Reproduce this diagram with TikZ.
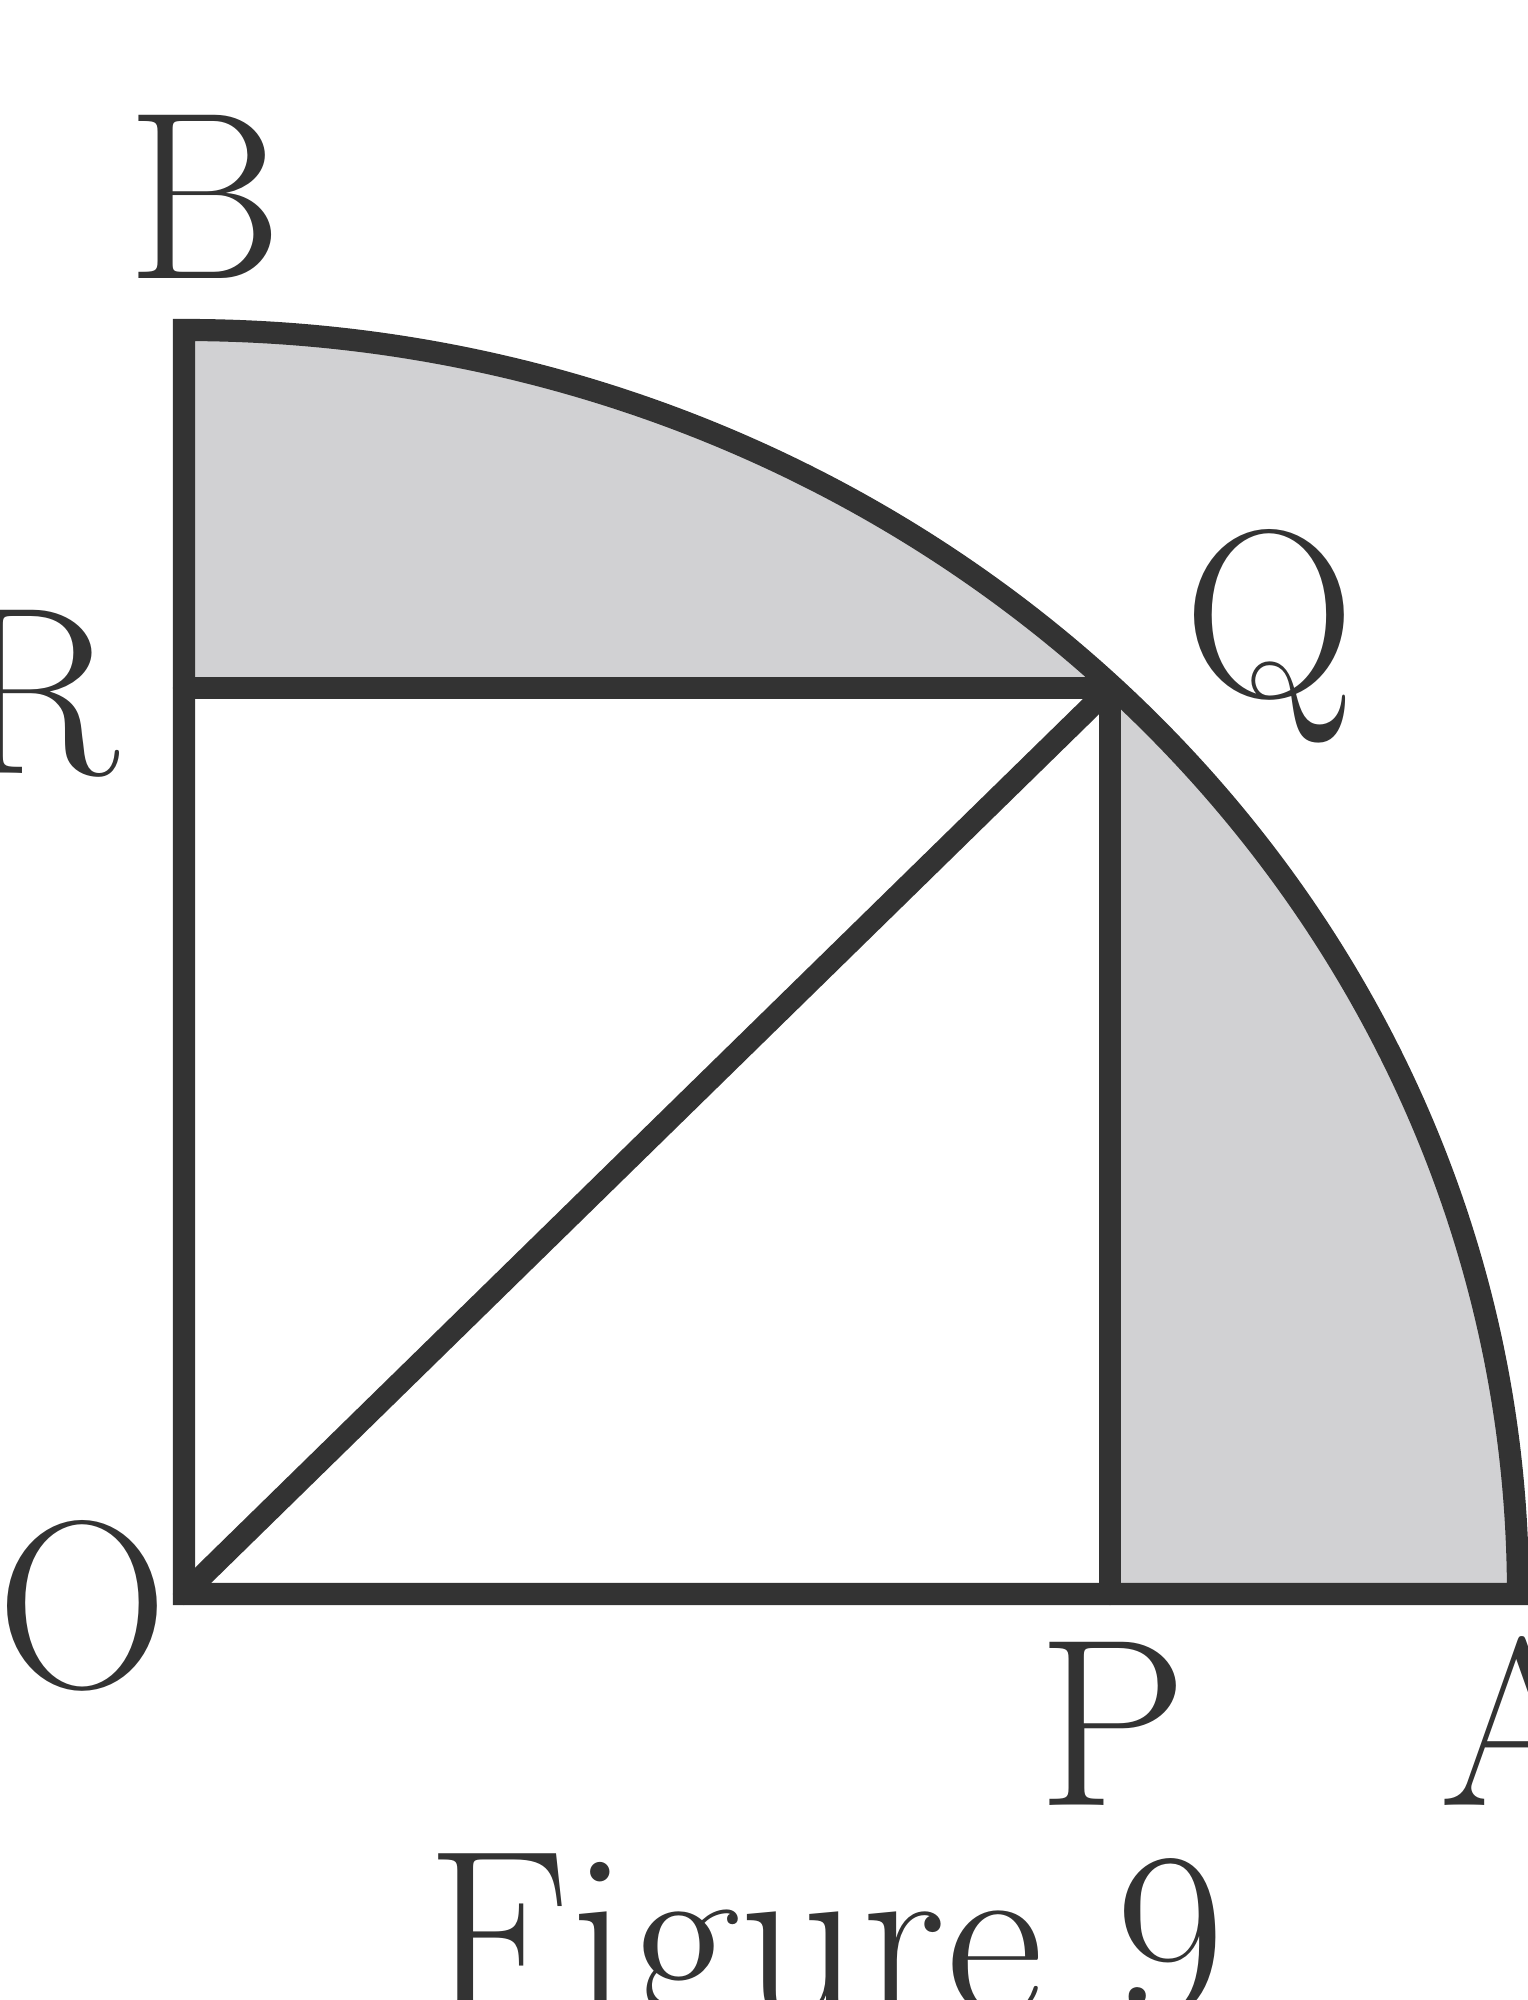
\documentclass[tikz,border=0pt]{standalone}
\usepackage{tikz}
\definecolor{inkgray}{HTML}{333333}
\definecolor{shadegray}{HTML}{D1D1D3}
\tikzset{lbl/.style={inner sep=0pt,anchor=base,text=inkgray,font=\fontsize{68}{80}\selectfont}}

\begin{document}
\begin{tikzpicture}[line cap=round,line join=miter,x=1.0cm,y=1.0cm]
\useasboundingbox (0,0) rectangle (15.28,20);
\clip (0,0) rectangle (15.28,20);
\coordinate (O) at (1.84,4.06);
\coordinate (A) at (15.18,4.06);
\coordinate (B) at (1.84,16.70);
\coordinate (P) at (11.10,4.06);
\coordinate (Q) at (11.10,13.12);
\coordinate (R) at (1.84,13.12);
\fill[shadegray] (O)-- (B) arc[start angle=90,end angle=0,x radius=13.34,y radius=12.64]-- cycle;
\fill[white] (O) rectangle (Q);
\draw[inkgray,line width=6.3pt] (O)-- (B) arc[start angle=90,end angle=0,x radius=13.34,y radius=12.64]-- cycle;
\draw[inkgray,line width=6.3pt] (R)-- (Q);
\draw[inkgray,line width=6.3pt] (Q)-- (P);
\draw[inkgray,line width=6.3pt] (O)-- (Q);
\node[lbl] (labB) at (2.05,17.21) {B};
\node[lbl] (labR) at (0.38,12.26) {R};
\node[lbl] (labQ) at (12.70,13.03) {Q};
\node[lbl] (labO) at (0.83,3.12) {O};
\node[lbl] (labP) at (11.13,1.94) {P};
\node[lbl] (labA) at (15.22,1.94) {A};
\node[lbl] (caption) at (8.26,-0.16) {Figure 9};
\end{tikzpicture}
\end{document}
